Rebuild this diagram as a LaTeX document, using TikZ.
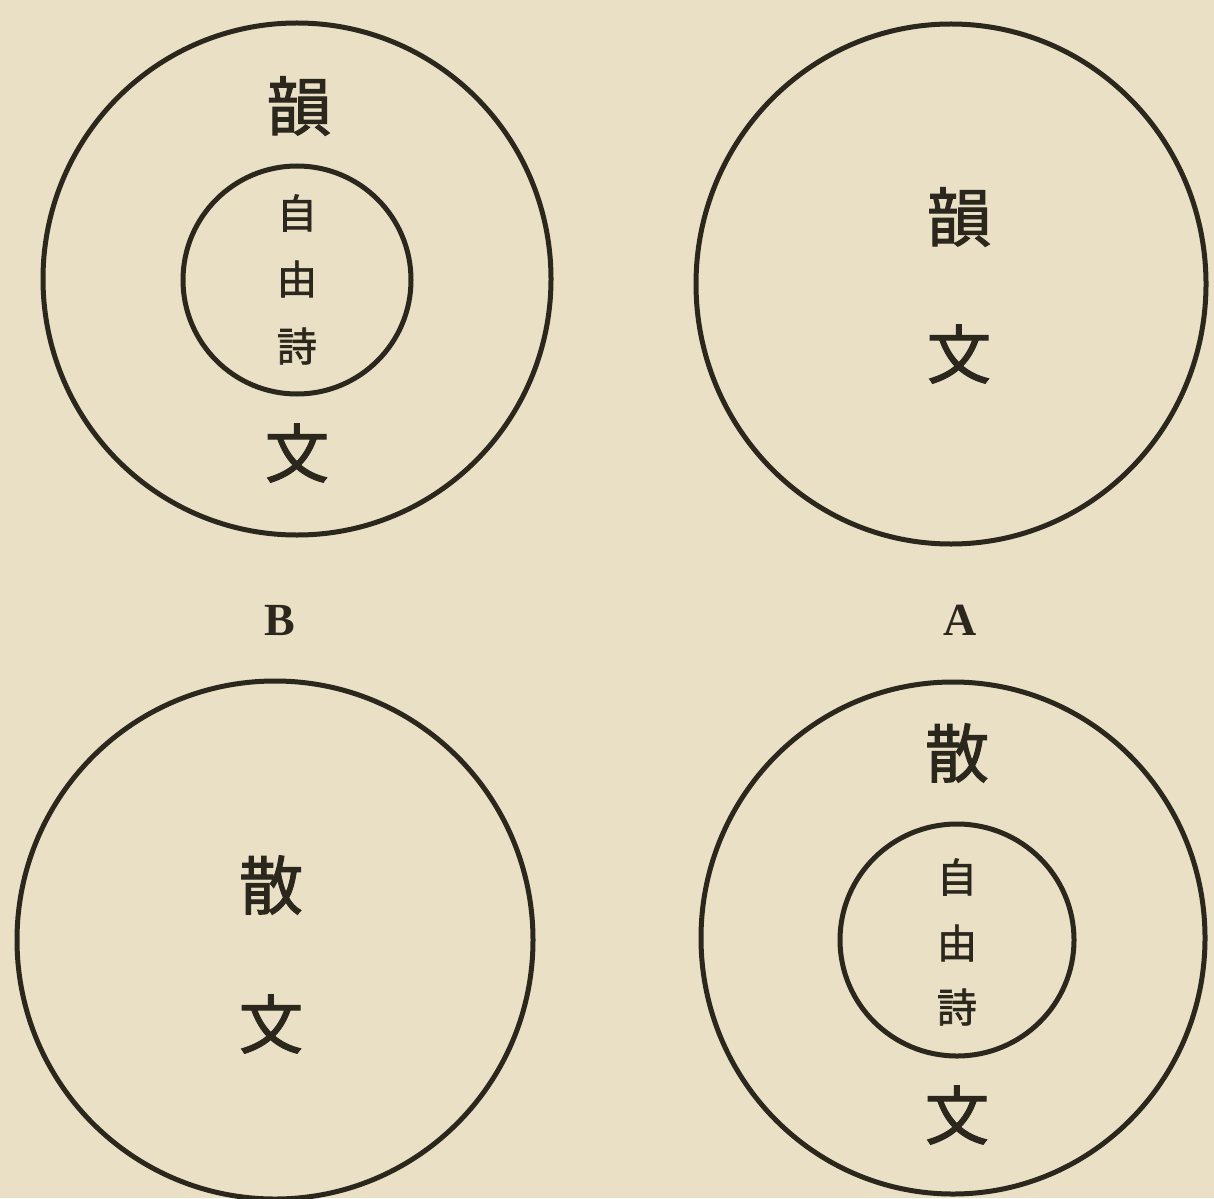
\documentclass[tikz,border=0pt]{standalone}
\usepackage{fontspec}
\newfontfamily\cjk[FakeBold=1.6]{Noto Sans CJK JP}
\newfontfamily\latin{Liberation Serif}
\definecolor{paper}{HTML}{E9E0C6}
\definecolor{ink}{HTML}{2B271C}
\begin{document}
\begin{tikzpicture}[x=1pt,y=-1pt,
  ring/.style={draw=ink,line width=5pt},
  big/.style={inner sep=0pt,text=ink,font=\cjk\fontsize{64}{64}\selectfont},
  small/.style={inner sep=0pt,text=ink,font=\cjk\fontsize{40}{40}\selectfont},
  letter/.style={inner sep=0pt,text=ink,font=\latin\bfseries\fontsize{46}{46}\selectfont}]
\fill[paper] (0,0) rectangle (1214,1198);
\useasboundingbox (0,0) rectangle (1214,1198);
% top left (B upper)
\draw[ring] (297,279) ellipse [x radius=254, y radius=256];
\draw[ring] (297,280) ellipse [x radius=114, y radius=114];
\node[big] (tl1) at (299,106) {韻};
\node[small] (tl2) at (297,213) {自};
\node[small] (tl3) at (297,279) {由};
\node[small] (tl4) at (297,346) {詩};
\node[big] (tl5) at (297,453) {文};
% top right (A upper)
\draw[ring] (951,284) ellipse [x radius=255, y radius=260];
\node[big] (tr1) at (959,217) {韻};
\node[big] (tr2) at (959,354) {文};
% labels
\node[letter] (B) at (280,621) {B};
\node[letter] (A) at (960,620) {A};
% bottom left
\draw[ring] (275,940) ellipse [x radius=258, y radius=259];
\node[big] (bl1) at (271,885) {散};
\node[big] (bl2) at (271,1024) {文};
% bottom right
\draw[ring] (953,938) ellipse [x radius=252, y radius=256];
\draw[ring] (957,940) ellipse [x radius=117, y radius=116];
\node[big] (br1) at (957,753) {散};
\node[small] (br2) at (957,877) {自};
\node[small] (br3) at (957,943) {由};
\node[small] (br4) at (957,1007) {詩};
\node[big] (br5) at (957,1115) {文};
\end{tikzpicture}
\end{document}
